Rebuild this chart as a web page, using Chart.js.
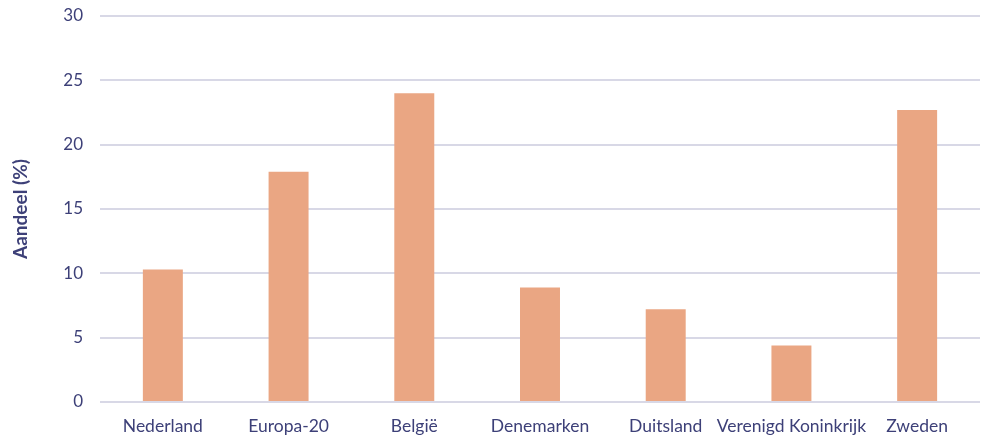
<!DOCTYPE html>
<html>
<head>
<meta charset="utf-8">
<script src="https://cdn.jsdelivr.net/npm/chart.js@4"></script>
<style>
  html, body { margin: 0; padding: 0; background: #fff; }
  #wrap { width: 981px; height: 438px; position: relative; }
</style>
</head>
<body>
<div id="wrap"><canvas id="chart"></canvas></div>
<script>
const categories = ['Nederland', 'Europa-20', 'België', 'Denemarken', 'Duitsland', 'Verenigd Koninkrijk', 'Zweden'];
const shares = [10.3, 17.9, 24.0, 8.9, 7.2, 4.4, 22.7];
const yTicks = [0, 5, 10, 15, 20, 25, 30];

const textColor = '#3d4078';
const gridColor = '#d8d8e6';

new Chart(document.getElementById('chart'), {
  type: 'bar',
  data: {
    labels: categories,
    datasets: [{
      data: shares,
      backgroundColor: '#eaa683',
      barPercentage: 0.318,
      categoryPercentage: 1
    }]
  },
  options: {
    responsive: true,
    maintainAspectRatio: false,
    animation: false,
    layout: { padding: { top: 16, right: 1, left: 0, bottom: 0 } },
    plugins: { legend: { display: false }, tooltip: { enabled: false } },
    scales: {
      x: {
        grid: { display: false },
        border: { display: false },
        ticks: { color: textColor, font: { family: 'Lato', size: 17.5 }, padding: 6, maxRotation: 0, autoSkip: false },
        afterFit: (scale) => { scale.height = 36; }
      },
      y: {
        min: 0,
        max: 30,
        afterBuildTicks: (scale) => { scale.ticks = yTicks.map(v => ({ value: v })); },
        grid: { color: gridColor, lineWidth: 2, drawTicks: false },
        border: { display: false },
        ticks: { color: textColor, font: { family: 'Lato', size: 17 }, padding: 17 },
        title: {
          display: true,
          text: 'Aandeel (%)',
          color: textColor,
          font: { family: 'Lato', size: 19, weight: 'bold' },
          padding: { top: 9, bottom: 0 }
        },
        afterFit: (scale) => {
          scale.width = 100;
          scale.paddingTop = 0;
          scale.paddingBottom = 0;
        }
      }
    }
  }
});
</script>
</body>
</html>
